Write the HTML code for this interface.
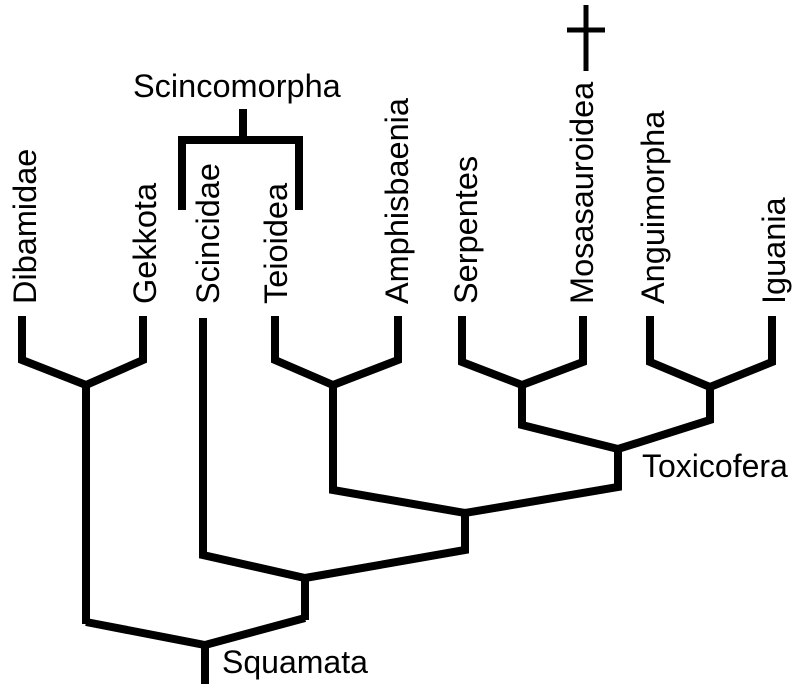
<!DOCTYPE html>
<html><head><meta charset="utf-8"><style>
html,body{margin:0;padding:0;background:#fff;}
svg{display:block;}
text{font-family:"Liberation Sans",Arial,sans-serif;font-size:32.5px;fill:#000;}
text.h{font-size:32px;}
</style></head><body>
<svg width="803" height="689" viewBox="0 0 803 689" xmlns="http://www.w3.org/2000/svg">
<g fill="none" stroke="#000" stroke-width="8" stroke-linejoin="miter">
<polyline points="22,316 22,360 86,385 143,360 143,316"/>
<line x1="86" y1="383" x2="86" y2="624"/>
<polyline points="86,622 205,645 305,618"/>
<line x1="205" y1="643" x2="205" y2="684"/>
<line x1="305" y1="620" x2="305" y2="576"/>
<polyline points="203,318 203,555 305,578 465,550 465,512"/>
<polyline points="275,316 275,360 333,385 398,360 398,316"/>
<polyline points="333,383 333,490 465,513 618,487 618,447"/>
<polyline points="462,316 462,362 522,385 583,362 583,316"/>
<polyline points="522,383 522,425 618,449 710,420 710,385"/>
<polyline points="650,316 650,362 710,387 772,362 772,316"/>
<polyline points="182,210 182,140 299,140 299,210"/>
<line x1="243" y1="109" x2="243" y2="140"/>
</g>
<g stroke="#000" stroke-width="5">
<line x1="586" y1="5" x2="586" y2="71"/>
<line x1="567" y1="30" x2="605" y2="30"/>
</g>
<text transform="translate(36,304) rotate(-90)">Dibamidae</text>
<text transform="translate(156,304) rotate(-90)">Gekkota</text>
<text transform="translate(219,304) rotate(-90)">Scincidae</text>
<text transform="translate(287,304) rotate(-90)">Teioidea</text>
<text transform="translate(408,304) rotate(-90)">Amphisbaenia</text>
<text transform="translate(477,304) rotate(-90)">Serpentes</text>
<text transform="translate(593,304) rotate(-90)">Mosasauroidea</text>
<text transform="translate(664,304) rotate(-90)">Anguimorpha</text>
<text transform="translate(785,304) rotate(-90)">Iguania</text>
<text x="133" y="97">Scincomorpha</text>
<text class="h" x="642" y="477">Toxicofera</text>
<text class="h" x="222" y="673">Squamata</text>
</svg>
</body></html>
